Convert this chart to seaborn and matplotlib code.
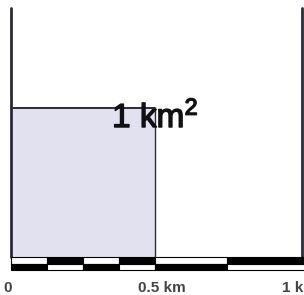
import matplotlib
matplotlib.use("Agg")
import matplotlib.pyplot as plt
import matplotlib.transforms as mtransforms
import matplotlib.patheffects as pe
import seaborn as sns
import pandas as pd

# ---- data ----
square_side_km = 0.5
frame_right_km = 1.01
frame_top_km = 0.836
scale_edges_km = [0.0, 0.125, 0.25, 0.375, 0.5, 0.75, 1.02]
top_row_dark = [False, True, False, True, False, True]
tick_km = [0.0, 0.5, 1.0]
tick_labels = ["0", "0.5 km", "1 km"]
area_label = r"1 km$^{2}$"

sns.set_theme(style="white")
plt.rcParams["font.family"] = ["Liberation Sans", "DejaVu Sans"]
plt.rcParams["mathtext.fontset"] = "custom"
plt.rcParams["mathtext.rm"] = "Liberation Sans"
plt.rcParams["mathtext.it"] = "Liberation Sans"

fig = plt.figure(figsize=(3.04, 2.95), dpi=100)
ax = fig.add_axes([0, 0, 1, 1])
ax.set_xlim(-11 / 288, 293 / 288)
ax.set_ylim(-(295 - 257) / 298, 257 / 298)
ax.axis("off")

line_col = "#2b2b38"

# shaded square
ax.fill_between([0, square_side_km], 0, square_side_km, color="#e1e1f0", lw=0, zorder=1)

# outline lines via seaborn
lines = {
    "left": ([0, 0], [0, frame_top_km], 2.0),
    "right": ([frame_right_km, frame_right_km], [0, frame_top_km], 2.0),
    "sq_top": ([0, square_side_km], [square_side_km, square_side_km], 1.4),
    "sq_right": ([square_side_km, square_side_km], [0, square_side_km], 1.0),
}
for name, (xs, ys, lw) in lines.items():
    df = pd.DataFrame({"x": xs, "y": ys})
    sns.lineplot(data=df, x="x", y="y", ax=ax, color=line_col, lw=lw,
                 sort=False, estimator=None, zorder=3)
ax.set_xlabel("")
ax.set_ylabel("")

# scale bar (two alternating rows)
row_h = 0.0225
for i in range(len(scale_edges_km) - 1):
    x0, x1 = scale_edges_km[i], scale_edges_km[i + 1]
    dark_top = top_row_dark[i]
    ax.bar(x0, row_h, width=x1 - x0, bottom=-row_h, align="edge",
           color="black" if dark_top else "white", edgecolor="black", lw=0.8, zorder=4)
    ax.bar(x0, row_h, width=x1 - x0, bottom=-2 * row_h, align="edge",
           color="white" if dark_top else "black", edgecolor="black", lw=0.8, zorder=4)

# area label
ax.text(0.351, 0.436, area_label, fontsize=24, color="#111111",
        ha="left", va="baseline", zorder=5,
        path_effects=[pe.withStroke(linewidth=1.0, foreground="#111111")])

# tick labels
offsets_px = [-8, -17, -17]
for t, lab, off in zip(tick_km, tick_labels, offsets_px):
    tr = ax.transData + mtransforms.ScaledTranslation(off / 100, 0, fig.dpi_scale_trans)
    ax.text(t, -0.0805, lab, fontsize=11, fontweight="bold", color="#444444",
            ha="left", va="top", transform=tr)

fig.savefig("out.png", dpi=100)
